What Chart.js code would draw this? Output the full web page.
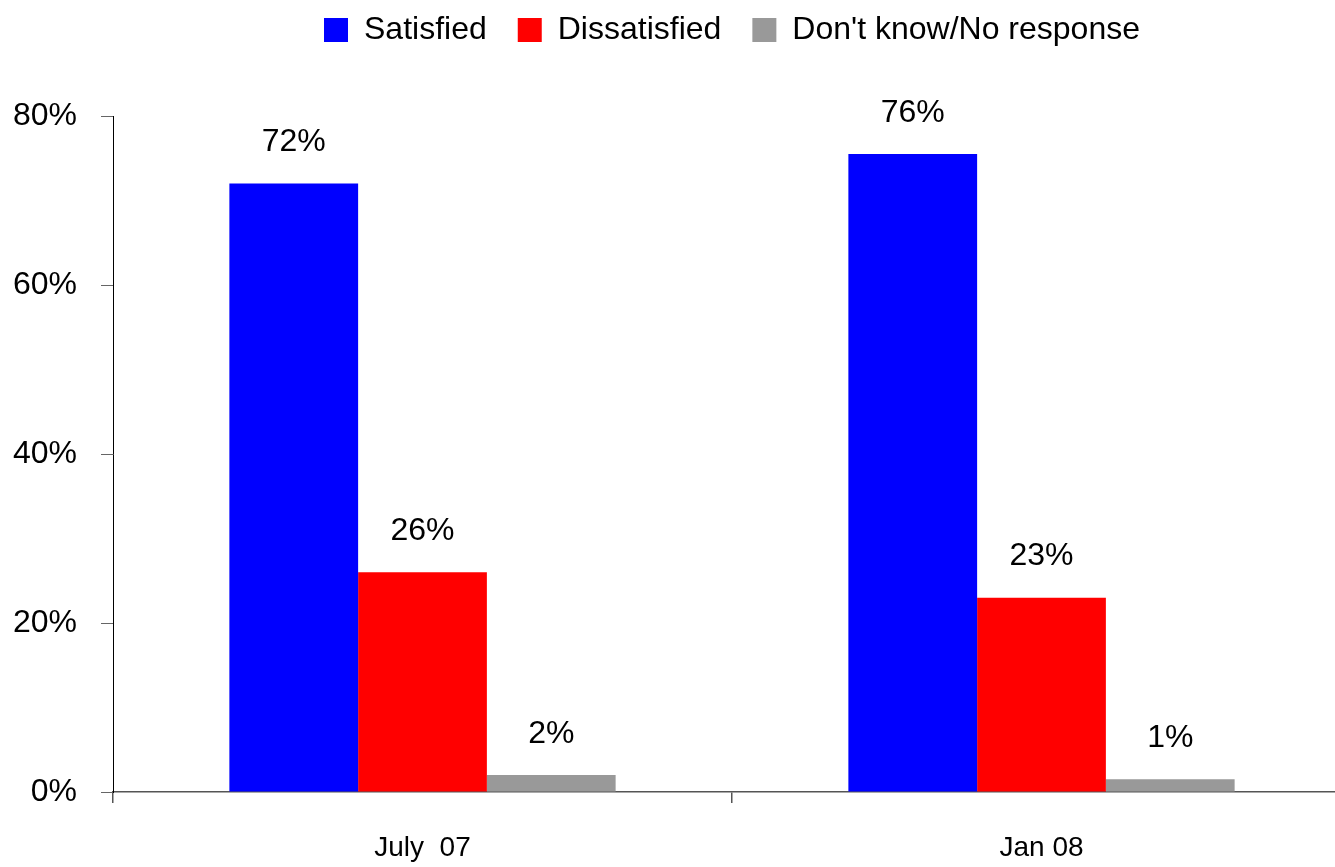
<!DOCTYPE html>
<html>
<head>
<meta charset="utf-8">
<script src="https://cdn.jsdelivr.net/npm/chart.js@4.4.1/dist/chart.umd.min.js"></script>
<style>
  html, body { margin: 0; padding: 0; background: #fff; overflow: hidden; }
  #wrap { width: 1351px; height: 867px; }
</style>
</head>
<body>
<div id="wrap"><canvas id="myChart" width="1351" height="867"></canvas></div>
<script>
// data
const periods = ['July  07', 'Jan 08'];
const satisfied = [72, 75.5];
const dissatisfied = [26, 23];
const dontKnow = [2, 1.5];
const satisfiedLabels = ['72%', '76%'];
const dissatisfiedLabels = ['26%', '23%'];
const dontKnowLabels = ['2%', '1%'];
const yTicks = [0, 20, 40, 60, 80];

const font = "'Liberation Sans', Arial, sans-serif";

// legend height fixed so the plot starts where the reference does
const legendFit = {
	id: 'legendFit',
	beforeLayout(chart) {
		const lg = chart.legend;
		if (lg && !lg._patched) {
			const fit = lg.fit;
			lg.fit = function() {
				fit.call(this);
				this.height = 133;
			};
			lg._patched = true;
		}
	}
};

// value labels above the bars
const barLabels = {
	id: 'barLabels',
	afterDatasetsDraw(chart) {
		const ctx = chart.ctx;
		ctx.save();
		ctx.font = '32px ' + font;
		ctx.fillStyle = '#000';
		ctx.textAlign = 'center';
		ctx.textBaseline = 'middle';
		chart.data.datasets.forEach((ds, i) => {
			chart.getDatasetMeta(i).data.forEach((bar, j) => {
				ctx.fillText(ds.valueLabels[j], bar.x, bar.y - 41);
			});
		});
		ctx.restore();
	}
};

const ctx = document.getElementById('myChart').getContext('2d');
const myChart = new Chart(ctx, {
	type: 'bar',
	data: {
		labels: periods,
		datasets: [
			{ label: 'Satisfied', data: satisfied, valueLabels: satisfiedLabels, backgroundColor: '#0000ff' },
			{ label: 'Dissatisfied', data: dissatisfied, valueLabels: dissatisfiedLabels, backgroundColor: '#ff0000' },
			{ label: "Don't know/No response", data: dontKnow, valueLabels: dontKnowLabels, backgroundColor: '#999999' }
		]
	},
	options: {
		responsive: false,
		animation: false,
		categoryPercentage: 0.624,
		barPercentage: 1,
		layout: { padding: { top: -17, left: 0, right: 0, bottom: 0 } },
		plugins: {
			tooltip: { enabled: false },
			legend: {
				position: 'top',
				fullSize: false,
				labels: {
					boxWidth: 24,
					boxHeight: 24,
					padding: 31,
					color: '#000',
					font: { family: font, size: 32 }
				}
			}
		},
		scales: {
			x: {
				afterFit(scale) { scale.height = 75; },
				grid: { offset: true, drawOnChartArea: false, tickLength: 11, color: '#555', lineWidth: 1.5 },
				border: { color: '#555', width: 1.5 },
				ticks: { color: '#000', padding: 28, font: { family: font, size: 28 } }
			},
			y: {
				min: 0,
				max: 80,
				afterFit(scale) { scale.width = 113; },
				afterBuildTicks(scale) { scale.ticks = yTicks.map(v => ({ value: v })); },
				grid: { drawOnChartArea: false, tickLength: 12, color: '#666' },
				border: { color: '#000', width: 1 },
				ticks: {
					color: '#000',
					padding: 24,
					font: { family: font, size: 32 },
					callback: v => v + '%'
				}
			}
		}
	},
	plugins: [legendFit, barLabels]
});
</script>
</body>
</html>
